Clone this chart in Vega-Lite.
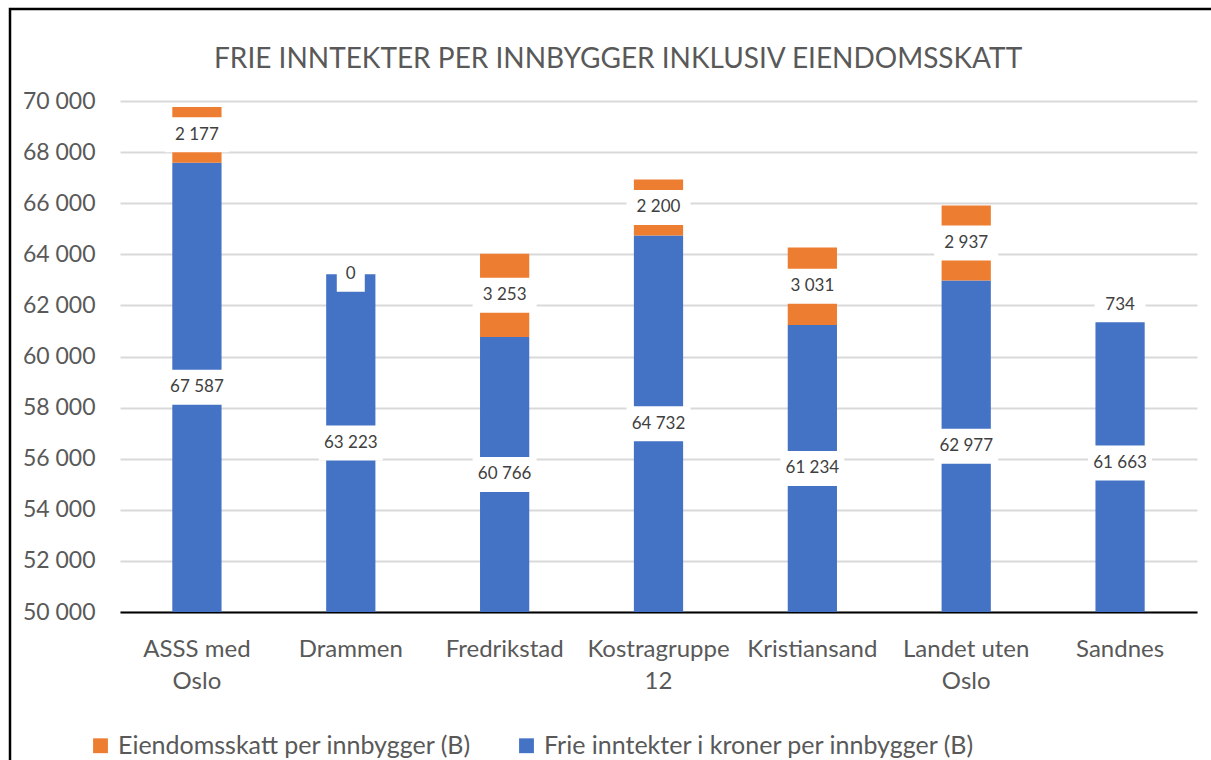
{
  "$schema": "https://vega.github.io/schema/vega-lite/v6.json",
  "width": 1205,
  "height": 755,
  "autosize": {"type": "none"},
  "padding": {"left": 10, "top": 9, "right": -4, "bottom": -4},
  "background": "white",
  "config": {
    "locale": {"number": {"decimal": ",", "thousands": " ", "grouping": [3], "currency": ["", " kr"]}},
    "view": {"stroke": "black", "strokeWidth": 2.5},
    "font": "Lato"
  },
  "title": {
    "text": "FRIE INNTEKTER PER INNBYGGER INKLUSIV EIENDOMSSKATT",
    "anchor": "start",
    "frame": "group",
    "orient": "top",
    "offset": 0,
    "baseline": "alphabetic",
    "dy": 87,
    "dx": 204,
    "font": "Lato",
    "fontSize": 28,
    "fontWeight": "normal",
    "color": "#595959"
  },
  "data": {
    "values": [
      {"category": "ASSS med Oslo", "series": "Frie inntekter i kroner per innbygger (B)", "value": 67587},
      {"category": "ASSS med Oslo", "series": "Eiendomsskatt per innbygger (B)", "value": 2177},
      {"category": "Drammen", "series": "Frie inntekter i kroner per innbygger (B)", "value": 63223},
      {"category": "Drammen", "series": "Eiendomsskatt per innbygger (B)", "value": 0},
      {"category": "Fredrikstad", "series": "Frie inntekter i kroner per innbygger (B)", "value": 60766},
      {"category": "Fredrikstad", "series": "Eiendomsskatt per innbygger (B)", "value": 3253},
      {"category": "Kostragruppe 12", "series": "Frie inntekter i kroner per innbygger (B)", "value": 64732},
      {"category": "Kostragruppe 12", "series": "Eiendomsskatt per innbygger (B)", "value": 2200},
      {"category": "Kristiansand", "series": "Frie inntekter i kroner per innbygger (B)", "value": 61234},
      {"category": "Kristiansand", "series": "Eiendomsskatt per innbygger (B)", "value": 3031},
      {"category": "Landet uten Oslo", "series": "Frie inntekter i kroner per innbygger (B)", "value": 62977},
      {"category": "Landet uten Oslo", "series": "Eiendomsskatt per innbygger (B)", "value": 2937},
      {"category": "Sandnes", "series": "Frie inntekter i kroner per innbygger (B)", "value": 61663},
      {"category": "Sandnes", "series": "Eiendomsskatt per innbygger (B)", "value": 734}
    ]
  },
  "transform": [
    {"stack": "value", "groupby": ["category"], "sort": [{"field": "series", "order": "descending"}], "as": ["v0", "v1"]},
    {"calculate": "(max(datum.v0, 50000) + datum.v1) / 2", "as": "mid"}
  ],
  "encoding": {
    "x": {
      "field": "category",
      "type": "nominal",
      "sort": null,
      "scale": {"range": [110, 1187], "paddingInner": 0.68, "paddingOuter": 0.34},
      "axis": {
        "title": null,
        "orient": "bottom",
        "offset": -152,
        "domain": true,
        "domainColor": "black",
        "domainWidth": 2,
        "ticks": false,
        "grid": false,
        "labelAngle": 0,
        "labelFont": "Lato",
        "labelFontSize": 24,
        "labelColor": "#595959",
        "labelPadding": 25,
        "labelLineHeight": 32,
        "labelBaseline": "top",
        "labelOverlap": false,
        "labelLimit": 0,
        "labelExpr": "datum.label == 'ASSS med Oslo' ? ['ASSS med', 'Oslo'] : datum.label == 'Kostragruppe 12' ? ['Kostragruppe', '12'] : datum.label == 'Landet uten Oslo' ? ['Landet uten', 'Oslo'] : datum.label"
      }
    }
  },
  "layer": [
    {
      "mark": {"type": "bar"},
      "encoding": {
        "y": {
          "field": "v0",
          "type": "quantitative",
          "scale": {"domain": [50000, 70000], "range": [603, 92], "clamp": true, "nice": false, "zero": false},
          "axis": {
            "title": null,
            "orient": "left",
            "offset": -110,
            "values": [50000, 52000, 54000, 56000, 58000, 60000, 62000, 64000, 66000, 68000, 70000],
            "format": ",d",
            "domain": false,
            "ticks": false,
            "grid": true,
            "gridColor": "#D9D9D9",
            "gridWidth": 2,
            "labelFont": "Lato",
            "labelFontSize": 23,
            "labelColor": "#595959",
            "labelPadding": 25
          }
        },
        "y2": {"field": "v1"},
        "color": {
          "field": "series",
          "type": "nominal",
          "scale": {
            "domain": ["Eiendomsskatt per innbygger (B)", "Frie inntekter i kroner per innbygger (B)"],
            "range": ["#ED7D31", "#4472C4"]
          },
          "legend": {
            "orient": "none",
            "legendX": 78,
            "legendY": 724,
            "direction": "horizontal",
            "title": null,
            "symbolType": "square",
            "symbolSize": 220,
            "symbolStrokeWidth": 0,
            "labelFont": "Lato",
            "labelFontSize": 25,
            "labelColor": "#595959",
            "labelOffset": 5,
            "columnPadding": 42,
            "labelLimit": 0
          }
        }
      }
    },
    {
      "mark": {"type": "point", "filled": true, "color": "white", "opacity": 1, "strokeWidth": 0},
      "encoding": {
        "y": {"field": "mid", "type": "quantitative", "scale": {"domain": [50000, 70000], "range": [603, 92], "clamp": true, "nice": false, "zero": false}},
        "size": {"value": 4},
        "shape": {
          "condition": [
            {"test": "datum.value < 10", "value": "M-14,-17.5H14V17.5H-14Z"},
            {"test": "datum.value < 1000", "value": "M-25.5,-17.5H25.5V17.5H-25.5Z"}
          ],
          "value": "M-32,-17.5H32V17.5H-32Z"
        }
      }
    },
    {
      "mark": {"type": "text", "font": "Lato", "fontSize": 17, "color": "#404040", "baseline": "middle", "align": "center"},
      "encoding": {
        "y": {"field": "mid", "type": "quantitative", "scale": {"domain": [50000, 70000], "range": [603, 92], "clamp": true, "nice": false, "zero": false}},
        "text": {"field": "value", "type": "quantitative", "format": ",d"}
      }
    }
  ]
}
